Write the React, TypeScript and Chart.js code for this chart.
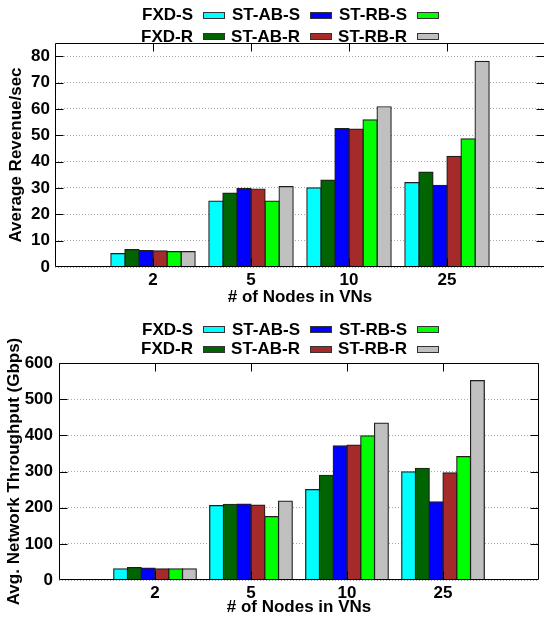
import React, { useEffect, useRef } from 'react';
import { Chart, registerables } from 'chart.js';

Chart.register(...registerables);

const FONT = '"Liberation Sans", Arial, sans-serif';

const categories = ['2', '5', '10', '25'];
const seriesNames = ['FXD-S', 'FXD-R', 'ST-AB-S', 'ST-AB-R', 'ST-RB-S', 'ST-RB-R'];
const seriesColors = ['#00ffff', '#006400', '#0000ff', '#a52a2a', '#00ff00', '#c0c0c0'];

// Average Revenue/sec
const revFXDS = [5.1, 25, 30, 32];
const revFXDR = [6.6, 28, 33, 36];
const revSTABS = [6.2, 29.8, 52.5, 31];
const revSTABR = [6.1, 29.6, 52.3, 42];
const revSTRBS = [5.8, 25, 55.8, 48.6];
const revSTRBR = [5.8, 30.5, 60.8, 78];
const revenueTicks = [0, 10, 20, 30, 40, 50, 60, 70, 80];

// Avg. Network Throughput (Gbps)
const thrFXDS = [31, 205.7, 250, 299];
const thrFXDR = [34, 209.5, 289.7, 309];
const thrSTABS = [33, 210, 371, 216];
const thrSTABR = [31, 207, 373, 296];
const thrSTRBS = [31, 175, 398.6, 341];
const thrSTRBR = [31, 218, 433.7, 551];
const throughputTicks = [0, 100, 200, 300, 400, 500, 600];

const revenueSeries = [revFXDS, revFXDR, revSTABS, revSTABR, revSTRBS, revSTRBR];
const throughputSeries = [thrFXDS, thrFXDR, thrSTABS, thrSTABR, thrSTRBS, thrSTRBR];

const framePlugin = {
  id: 'gnuFrame',
  afterDatasetsDraw(chart: any) {
    const { ctx, chartArea, scales } = chart;
    const L = Math.round(chartArea.left) + 0.5;
    const R = Math.round(chartArea.right) - 0.5;
    const T = Math.round(chartArea.top) + 0.5;
    const B = Math.round(chartArea.bottom) - 0.5;
    ctx.save();
    ctx.strokeStyle = '#000';
    ctx.lineWidth = 1;
    ctx.beginPath();
    ctx.rect(L, T, R - L, B - T);
    ctx.stroke();
    const tl = 8;
    ctx.beginPath();
    for (const t of scales.y.ticks) {
      if (t.value === 0) continue;
      const py = Math.round(scales.y.getPixelForValue(t.value)) + 0.5;
      ctx.moveTo(L, py);
      ctx.lineTo(L + tl, py);
      ctx.moveTo(R, py);
      ctx.lineTo(R - tl, py);
    }
    const n = scales.x.getLabels().length;
    for (let i = 1; i < n - 1; i++) {
      const px = Math.round(scales.x.getPixelForValue(i)) + 0.5;
      ctx.moveTo(px, T);
      ctx.lineTo(px, T + tl);
      ctx.moveTo(px, B);
      ctx.lineTo(px, B - tl);
    }
    ctx.stroke();
    ctx.restore();
  },
};

function makeConfig(
  series: number[][],
  tickValues: number[],
  yMax: number,
  yTitle: string,
  opts: { yWidth: number; xHeight: number; pad: any; yTitlePad: number; yTickPad: number; xTickPad: number; xTitlePad: number }
): any {
  const labels = ['', ...categories, ''];
  return {
    type: 'bar',
    data: {
      labels,
      datasets: series.map((vals, i) => ({
        label: seriesNames[i],
        data: [null, ...vals, null],
        backgroundColor: seriesColors[i],
        borderColor: '#1e1e1e',
        borderWidth: 1.2,
        borderSkipped: false,
        inflateAmount: 0.6,
        categoryPercentage: 0.86,
        barPercentage: 1,
      })),
    },
    options: {
      responsive: false,
      animation: false,
      devicePixelRatio: 1,
      layout: { padding: opts.pad },
      plugins: { legend: { display: false }, tooltip: { enabled: false }, title: { display: false } },
      scales: {
        x: {
          type: 'category',
          offset: false,
          grid: { display: false, drawTicks: false },
          border: { display: false },
          ticks: {
            color: '#000',
            font: { family: FONT, size: 17, weight: 'bold' },
            padding: opts.xTickPad,
            maxRotation: 0,
            autoSkip: false,
          },
          title: {
            display: true,
            text: '# of Nodes in VNs',
            color: '#000',
            font: { family: FONT, size: 17, weight: 'bold' },
            padding: { top: 0, bottom: opts.xTitlePad },
          },
          afterFit: (s: any) => {
            s.height = opts.xHeight;
          },
        },
        y: {
          min: 0,
          max: yMax,
          grid: {
            color: '#a8a8a8',
            lineWidth: 1,
            drawTicks: false,
          },
          border: { display: false, dash: [1, 2] },
          ticks: {
            color: '#000',
            font: { family: FONT, size: 17, weight: 'bold' },
            padding: opts.yTickPad,
          },
          afterBuildTicks: (s: any) => {
            s.ticks = tickValues.map((v) => ({ value: v }));
          },
          title: {
            display: true,
            text: yTitle,
            color: '#000',
            font: { family: FONT, size: 17, weight: 'bold' },
            padding: { top: opts.yTitlePad, bottom: 0 },
          },
          afterFit: (s: any) => {
            s.width = opts.yWidth;
          },
        },
      },
    },
    plugins: [framePlugin],
  };
}

function Legend({ rowCenters }: { rowCenters: number[] }) {
  const textRight = [193, 300, 407];
  const boxLeft = [203, 310, 417];
  const items: any[] = [];
  for (let c = 0; c < 3; c++) {
    for (let r = 0; r < 2; r++) {
      const i = c * 2 + r;
      const cy = rowCenters[r];
      items.push(
        <div
          key={'t' + i}
          style={{
            position: 'absolute',
            right: 544 - textRight[c],
            top: cy - 10,
            height: 20,
            lineHeight: '20px',
            whiteSpace: 'nowrap',
            font: `bold 17px ${FONT}`,
            color: '#000',
          }}
        >
          {seriesNames[i]}
        </div>
      );
      items.push(
        <div
          key={'b' + i}
          style={{
            position: 'absolute',
            left: boxLeft[c],
            top: cy - 3.5,
            width: 22,
            height: 7,
            boxSizing: 'border-box',
            border: '1px solid #333',
            background: seriesColors[i],
          }}
        />
      );
    }
  }
  return <>{items}</>;
}

export default function App() {
  const topRef = useRef<HTMLCanvasElement>(null);
  const botRef = useRef<HTMLCanvasElement>(null);

  useEffect(() => {
    Chart.defaults.font.family = FONT;
    const c1 = new Chart(
      topRef.current as HTMLCanvasElement,
      makeConfig(revenueSeries, revenueTicks, 85, 'Average Revenue/sec', {
        yWidth: 55,
        xHeight: 41,
        pad: { top: 43, right: 7, bottom: 0, left: 0 },
        yTitlePad: 6,
        yTickPad: 5,
        xTickPad: 3,
        xTitlePad: 0,
      })
    );
    const c2 = new Chart(
      botRef.current as HTMLCanvasElement,
      makeConfig(throughputSeries, throughputTicks, 600, 'Avg. Network Throughput (Gbps)', {
        yWidth: 59,
        xHeight: 40,
        pad: { top: 55, right: 5, bottom: 0, left: 0 },
        yTitlePad: 4,
        yTickPad: 6,
        xTickPad: 3,
        xTitlePad: 2,
      })
    );
    return () => {
      c1.destroy();
      c2.destroy();
    };
  }, []);

  return (
    <div
      style={{
        position: 'absolute',
        left: 0,
        top: 0,
        width: 544,
        height: 617,
        overflow: 'hidden',
        background: '#fff',
      }}
    >
      <div style={{ position: 'absolute', left: 0, top: 0, width: 552, height: 308 }}>
        <canvas ref={topRef} width={552} height={308} style={{ width: 552, height: 308, display: 'block' }} />
      </div>
      <div style={{ position: 'absolute', left: 0, top: 308, width: 544, height: 312 }}>
        <canvas ref={botRef} width={544} height={312} style={{ width: 544, height: 312, display: 'block' }} />
      </div>
      <Legend rowCenters={[15, 36.5]} />
      <Legend rowCenters={[329.5, 349.2]} />
    </div>
  );
}
